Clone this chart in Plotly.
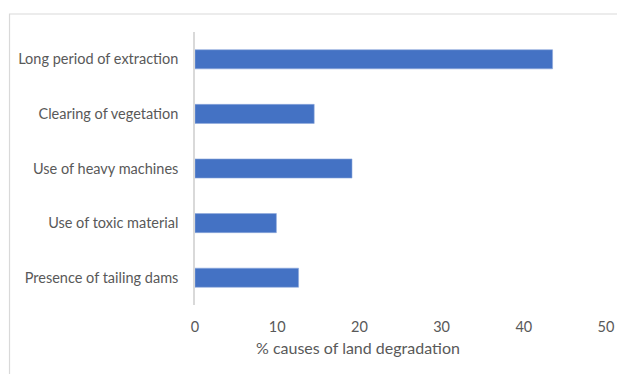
import plotly.graph_objects as go

# Causes of land degradation, listed top to bottom
categories = [
    "Long period of extraction",
    "Clearing of vegetation",
    "Use of heavy machines",
    "Use of toxic material",
    "Presence of tailing dams",
]
percent = [43.5, 14.5, 19.1, 9.9, 12.6]
x_ticks = [0, 10, 20, 30, 40, 50]

FONT = "Lato"
GREY = "#595959"

fig = go.Figure(
    go.Bar(
        x=percent,
        y=categories,
        orientation="h",
        marker=dict(color="#4472C4", line=dict(color="#8FAADC", width=0.6)),
        hoverinfo="x+y",
    )
)

fig.update_layout(
    width=617,
    height=374,
    margin=dict(l=195, r=11, t=32, b=69),
    paper_bgcolor="white",
    plot_bgcolor="white",
    bargap=0.65,
    showlegend=False,
    font=dict(family=FONT, size=14, color=GREY),
    xaxis=dict(
        range=[0, 50],
        tickvals=x_ticks,
        showgrid=False,
        zeroline=False,
        showline=False,
        ticks="",
        ticklabelstandoff=11,
        tickfont=dict(family=FONT, size=14.5, color=GREY),
        automargin=False,
        fixedrange=True,
    ),
    yaxis=dict(
        categoryorder="array",
        categoryarray=categories,
        autorange="reversed",
        showgrid=False,
        zeroline=False,
        showline=True,
        linecolor="#D9D9D9",
        linewidth=1.5,
        ticks="",
        ticklabelstandoff=12,
        tickfont=dict(family=FONT, size=14.5, color=GREY),
        automargin=False,
        fixedrange=True,
    ),
    annotations=[
        dict(
            text="% causes of land degradation",
            xref="paper",
            yref="paper",
            x=0.397,
            y=-0.1575,
            xanchor="center",
            yanchor="middle",
            showarrow=False,
            font=dict(family=FONT, size=16, color=GREY),
        )
    ],
    shapes=[
        # chart frame: left and top edges fall inside the window
        dict(
            type="rect",
            xref="paper",
            yref="paper",
            x0=-0.4513,
            x1=1.2,
            y0=-0.5,
            y1=1.066,
            line=dict(color="#D9D9D9", width=1.2),
            fillcolor="rgba(0,0,0,0)",
            layer="below",
        )
    ],
)

fig.write_html("out.html")
